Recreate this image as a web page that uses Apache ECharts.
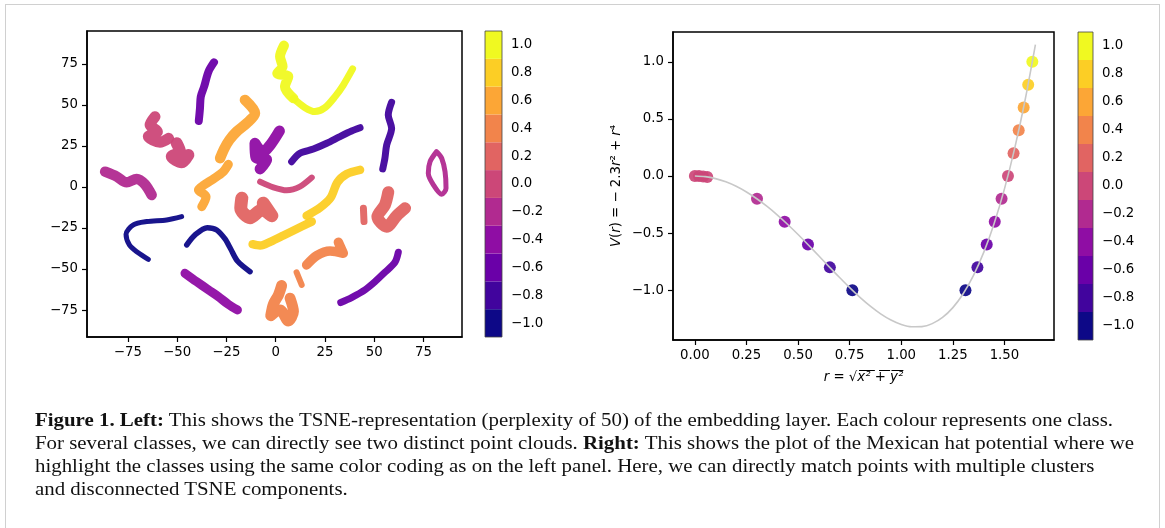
<!DOCTYPE html>
<html>
<head>
<meta charset="utf-8">
<script src="https://cdn.jsdelivr.net/npm/echarts@6/dist/echarts.min.js"></script>
<style>
  html, body { margin:0; padding:0; background:#fff; width:1165px; height:528px; overflow:hidden; }
  #frame { position:absolute; left:5px; top:4px; width:1155px; height:560px; border:1.5px solid #d0d0d0; box-sizing:border-box; }
  #chart { position:absolute; left:0; top:0; width:1165px; height:528px; }
  .cap { position:absolute; left:35px; white-space:nowrap; font-family:'Liberation Serif', serif; font-size:18.5px; line-height:23px; color:#111; transform-origin:0 0; }
</style>
</head>
<body>
<div id="frame"></div>
<div id="chart"></div>
<div class="cap" id="l1" style="top:409px"><b>Figure 1. Left:</b> This shows the TSNE-representation (perplexity of 50) of the embedding layer. Each colour represents one class.</div>
<div class="cap" id="l2" style="top:432px">For several classes, we can directly see two distinct point clouds. <b>Right:</b> This shows the plot of the Mexican hat potential where we</div>
<div class="cap" id="l3" style="top:455px">highlight the classes using the same color coding as on the left panel. Here, we can directly match points with multiple clusters</div>
<div class="cap" id="l4" style="top:478px">and disconnected TSNE components.</div>
<script>
// ---------- DATA ----------
const classLevels = [-1.0, -0.8, -0.6, -0.4, -0.2, 0.0, 0.2, 0.4, 0.6, 0.8, 1.0];
const plasmaColors = ['#0d0887','#41049d','#6a00a8','#8f0da4','#b12a90','#cc4778','#e16462','#f2844b','#fca636','#fcce25','#f0f921'];

// TSNE clusters (x, y)
const yellowTop = [[4.2,86.1],[2.2,79.4],[3.5,73.3],[0.8,69.2],[6.4,67.2],[4.7,61.1],[9.0,54.0]];
const yellowArc = [[9.0,54.0],[14.9,48.3],[19.9,45.9],[25.0,48.3],[30.1,55.0],[34.3,62.1],[39.0,71.9]];
const purpleUpperLeft = [[-31.3,75.9],[-34.1,70.2],[-36.3,61.1],[-38.0,55.0],[-38.4,47.9],[-39.0,40.2]];
const orangeUpper = [[-15.6,53.0],[-10.5,44.9],[-14.7,38.8],[-19.8,33.7],[-23.5,28.6],[-26.2,23.1],[-28.2,17.5]];
const orangeLower = [[-24.0,13.8],[-26.9,8.9],[-31.6,4.9],[-36.3,1.2],[-39.2,-1.8],[-35.3,-5.9],[-37.5,-12.0]];
const pinkBlobA = [[-61.2,42.8],[-63.7,37.8],[-60.0,33.7],[-64.6,30.7],[-58.7,27.2],[-54.3,29.6]];
const pinkBlobB = [[-50.2,26.6],[-48.5,21.5],[-52.7,18.5],[-47.7,15.0],[-44.3,19.5]];
const magentaLeft = [[-86.5,9.3],[-80.6,6.3],[-75.6,2.8],[-70.5,4.9],[-66.3,1.6],[-62.9,-4.9]];
const violetMiddle = [[1.9,34.1],[-2.5,26.0],[-6.6,21.1],[-10.5,26.6],[-10.0,17.9],[-4.6,16.4],[-7.9,11.0]];
const indigoString = [[8.1,15.4],[12.3,20.5],[19.1,23.1],[25.9,26.6],[32.6,30.7],[38.5,34.1],[42.8,36.1]];
const indigoVertical = [[58.8,51.6],[57.1,43.9],[58.8,35.7],[56.3,25.6],[55.4,17.5],[54.3,11.0]];
const magentaRing = [[81.6,21.5],[78.3,15.4],[77.4,8.3],[80.0,1.2],[84.2,-4.5],[86.4,-0.8],[85.9,9.3],[84.2,17.5],[82.0,21.1]];
const pinkArc = [[-7.9,3.2],[-1.2,-0.2],[5.6,-2.0],[12.3,0.2],[18.3,5.7]];
const salmonMiddle = [[-17.2,-6.9],[-17.7,-13.0],[-13.0,-18.7],[-7.1,-14.0],[-2.0,-17.5],[-6.3,-9.9]];
const salmonRight = [[57.1,-3.2],[55.4,-11.0],[51.6,-18.1],[56.3,-24.2],[61.4,-17.5],[65.6,-13.0]];
const salmonRightSmall = [[44.5,-13.0],[44.8,-21.1]];
const goldUpper = [[42.8,10.4],[36.0,7.9],[31.3,2.8],[27.9,-6.5],[22.5,-12.6],[15.7,-17.5]];
const goldLower = [[18.3,-21.1],[10.6,-25.6],[3.9,-29.6],[-2.5,-33.3],[-7.9,-35.7],[-11.7,-34.9]];
const navyHook = [[-47.7,-18.1],[-55.3,-20.1],[-65.4,-21.1],[-72.2,-23.1],[-75.9,-28.8],[-74.2,-35.3],[-70.1,-39.8],[-64.6,-44.1]];
const navyArch = [[-45.1,-35.3],[-40.9,-29.2],[-34.7,-24.8],[-29.9,-26.2],[-25.7,-31.7],[-22.8,-37.8],[-19.4,-45.1],[-13.0,-51.6]];
const coralRight = [[31.8,-33.7],[34.3,-40.4],[27.6,-39.0],[20.8,-41.8],[15.7,-47.5]];
const coralSmall = [[10.6,-52.0],[13.2,-59.7]];
const coralBottom = [[3.0,-60.1],[1.4,-65.8],[-1.2,-71.5],[-2.5,-78.4],[2.2,-74.9],[6.4,-81.6],[9.0,-75.9],[7.3,-67.8]];
const violetLowerLeft = [[-46.0,-52.6],[-40.1,-57.7],[-34.1,-62.7],[-29.1,-66.8],[-24.0,-71.5],[-19.4,-74.9]];
const purpleLowerRight = [[62.2,-39.8],[60.5,-45.9],[55.4,-52.0],[50.4,-57.7],[45.3,-62.7],[38.5,-67.4],[33.0,-70.4]];

const tsneClusters = [yellowTop, yellowArc, purpleUpperLeft, orangeUpper, orangeLower, pinkBlobA, pinkBlobB,
  magentaLeft, violetMiddle, indigoString, indigoVertical, magentaRing, pinkArc, salmonMiddle, salmonRight,
  salmonRightSmall, goldUpper, goldLower, navyHook, navyArch, coralRight, coralSmall, coralBottom,
  violetLowerLeft, purpleLowerRight];
const tsneClusterLevels = [1.0, 1.0, -0.6, 0.6, 0.6, 0.0, 0.0, -0.2, -0.4, -0.8, -0.8, -0.2, 0.0, 0.2, 0.2,
  0.2, 0.8, 0.8, -1.0, -1.0, 0.4, 0.4, 0.4, -0.4, -0.6];

// Mexican hat curve points (r, V)
const curveR = [0,0.05,0.10,0.15,0.20,0.25,0.30,0.35,0.40,0.45,0.50,0.55,0.60,0.65,0.70,0.75,0.80,0.85,0.90,0.95,1.00,1.05,1.10,1.15,1.20,1.25,1.30,1.35,1.40,1.45,1.50,1.55,1.60,1.65];
const curveV = [0,-0.0057,-0.0229,-0.0512,-0.0904,-0.1398,-0.1989,-0.2667,-0.3424,-0.4247,-0.5125,-0.6042,-0.6984,-0.7932,-0.8869,-0.9773,-1.0624,-1.1397,-1.2069,-1.2612,-1.3,-1.3202,-1.3189,-1.2927,-1.2384,-1.1523,-1.0309,-0.8702,-0.6664,-0.4152,-0.1125,0.2463,0.6656,1.1503];

// class markers on the curve: r positions per class (V equals the class level)
const classMarkerR = [
  [0.763, 1.311],          // -1.0
  [0.654, 1.369],          // -0.8
  [0.548, 1.414],          // -0.6
  [0.435, 1.453],          // -0.4
  [0.301, 1.486],          // -0.2
  [0.0, 0.02, 0.04, 0.06, 1.517], // 0.0
  [1.544],                 // 0.2
  [1.569],                 // 0.4
  [1.593],                 // 0.6
  [1.615],                 // 0.8
  [1.635]                  // 1.0
];
const zeroClassV = [0, -0.001, -0.004, -0.008, 0];

// tick labels
const leftXTicks = [-75, -50, -25, 0, 25, 50, 75];
const leftYTicks = [-75, -50, -25, 0, 25, 50, 75];
const rightXTicks = [0, 0.25, 0.5, 0.75, 1.0, 1.25, 1.5];
const rightYTicks = [-1.0, -0.5, 0.0, 0.5, 1.0];

// ---------- STYLE ----------
const clusterWidths = [10, 7, 8, 10.5, 9, 11, 12, 10.5, 11, 7, 7, 5, 6, 13, 12, 7, 8.5, 8.5, 5, 5.5, 9.5, 6, 11, 9, 7];
const FONT = 'DejaVu Sans';
const FS = 13.3;
const minus = s => String(s).replace('-', '\u2212');
const colorFor = lv => plasmaColors[Math.round((lv + 1) / 0.2)];

const axisCommon = {
  axisLine: { show: true, onZero: false, lineStyle: { color: '#000', width: 1.5 } },
  splitLine: { show: false },
  axisTick: { show: true, length: 5, lineStyle: { color: '#000', width: 1.2 } }
};

const chart = echarts.init(document.getElementById('chart'), null, { renderer: 'canvas' });

const series = [];
tsneClusters.forEach((pts, i) => {
  series.push({
    type: 'line', xAxisIndex: 0, yAxisIndex: 0, data: pts, showSymbol: false, symbol: 'none',
    smooth: 0.3, silent: true, animation: false, z: 2,
    lineStyle: { color: colorFor(tsneClusterLevels[i]), width: clusterWidths[i], cap: 'round', join: 'round', opacity: 0.95 }
  });
});
// left colorbar
series.push({
  type: 'bar', xAxisIndex: 1, yAxisIndex: 1, barWidth: '100%', silent: true, animation: false,
  data: classLevels.map((v, i) => ({ value: 1, itemStyle: { color: plasmaColors[i] } }))
});
// right curve
series.push({
  type: 'line', xAxisIndex: 2, yAxisIndex: 2, data: curveR.map((r, i) => [r, curveV[i]]),
  showSymbol: false, symbol: 'none', smooth: 0.3, silent: true, animation: false, z: 4,
  lineStyle: { color: '#c8c8c8', width: 1.6 }
});
// right class markers
classLevels.forEach((lv, i) => {
  series.push({
    type: 'scatter', xAxisIndex: 2, yAxisIndex: 2, symbolSize: 12, silent: true, animation: false, z: 3,
    itemStyle: { color: plasmaColors[i], opacity: 0.92 },
    data: classMarkerR[i].map((r, j) => [r, lv === 0 ? zeroClassV[j] : lv])
  });
});
// right colorbar
series.push({
  type: 'bar', xAxisIndex: 3, yAxisIndex: 3, barWidth: '100%', silent: true, animation: false,
  data: classLevels.map((v, i) => ({ value: 1, itemStyle: { color: plasmaColors[i] } }))
});

const cbLabels = classLevels.map(v => minus(v.toFixed(1)));
const labelStyle = { color: '#000', fontFamily: FONT, fontSize: FS };

const cbAxes = (idx) => ({
  x: { gridIndex: idx, type: 'value', min: 0, max: 1, show: false },
  y: { gridIndex: idx, type: 'category', data: cbLabels, position: 'right',
       axisLine: { show: false },
       axisTick: { show: true, alignWithLabel: true, length: 5, lineStyle: { color: '#000', width: 1.2 } },
       axisLabel: Object.assign({ margin: 9, interval: 0 }, labelStyle),
       splitLine: { show: false } }
});
const cb1 = cbAxes(1), cb2 = cbAxes(3);

chart.setOption({
  animation: false,
  grid: [
    { left: 87, top: 31, width: 375, height: 306, show: true, borderColor: '#000', borderWidth: 1.5, z: 10 },
    { left: 485, top: 31, width: 17, height: 306, show: true, borderColor: '#444', borderWidth: 0.8, z: 10 },
    { left: 673, top: 32, width: 381, height: 308, show: true, borderColor: '#000', borderWidth: 1.5, z: 10 },
    { left: 1078, top: 32, width: 15, height: 308, show: true, borderColor: '#444', borderWidth: 0.8, z: 10 }
  ],
  xAxis: [
    Object.assign({ gridIndex: 0, type: 'value', min: -95.7, max: 94.5,
      axisLabel: Object.assign({ margin: 9, customValues: leftXTicks, formatter: v => minus(v) }, labelStyle) },
      axisCommon, { axisTick: Object.assign({}, axisCommon.axisTick, { customValues: leftXTicks }) }),
    cb1.x,
    Object.assign({ gridIndex: 2, type: 'value', min: -0.106, max: 1.74,
      name: '{i|r} = \u221a{n|x\u0305\u00b2\u0305 \u0305+\u0305 \u0305y\u0305\u00b2\u0305}', nameLocation: 'middle', nameGap: 31,
      nameTextStyle: { color: '#000', fontFamily: FONT, fontSize: FS,
        rich: { i: { fontStyle: 'italic', fontFamily: FONT, fontSize: FS, color: '#000' },
                n: { fontStyle: 'italic', fontFamily: FONT, fontSize: FS, color: '#000' } } },
      axisLabel: Object.assign({ margin: 9, customValues: rightXTicks, formatter: v => minus(v.toFixed(2)) }, labelStyle) },
      axisCommon, { axisTick: Object.assign({}, axisCommon.axisTick, { customValues: rightXTicks }) }),
    cb2.x
  ],
  yAxis: [
    Object.assign({ gridIndex: 0, type: 'value', min: -91.4, max: 95.0,
      axisLabel: Object.assign({ margin: 9, customValues: leftYTicks, formatter: v => minus(v) }, labelStyle) },
      axisCommon, { axisTick: Object.assign({}, axisCommon.axisTick, { customValues: leftYTicks }) }),
    cb1.y,
    Object.assign({ gridIndex: 2, type: 'value', min: -1.436, max: 1.261,
      name: '{i|V}({i|r}) = \u2212 2.3{i|r}\u00b2 + {i|r}\u2074', nameLocation: 'middle', nameRotate: 90, nameGap: 50,
      nameTextStyle: { color: '#000', fontFamily: FONT, fontSize: FS,
        rich: { i: { fontStyle: 'italic', fontFamily: FONT, fontSize: FS, color: '#000' } } },
      axisLabel: Object.assign({ margin: 9, customValues: rightYTicks, formatter: v => minus(v.toFixed(1)) }, labelStyle) },
      axisCommon, { axisTick: Object.assign({}, axisCommon.axisTick, { customValues: rightYTicks }) }),
    cb2.y
  ],
  series: series
});

// fit caption width
(function () {
  const l1 = document.getElementById('l1');
  const w = l1.getBoundingClientRect().width;
  const k = 1078 / w;
  ['l1', 'l2', 'l3', 'l4'].forEach(id => { document.getElementById(id).style.transform = 'scaleX(' + k + ')'; });
})();
</script>
</body>
</html>
